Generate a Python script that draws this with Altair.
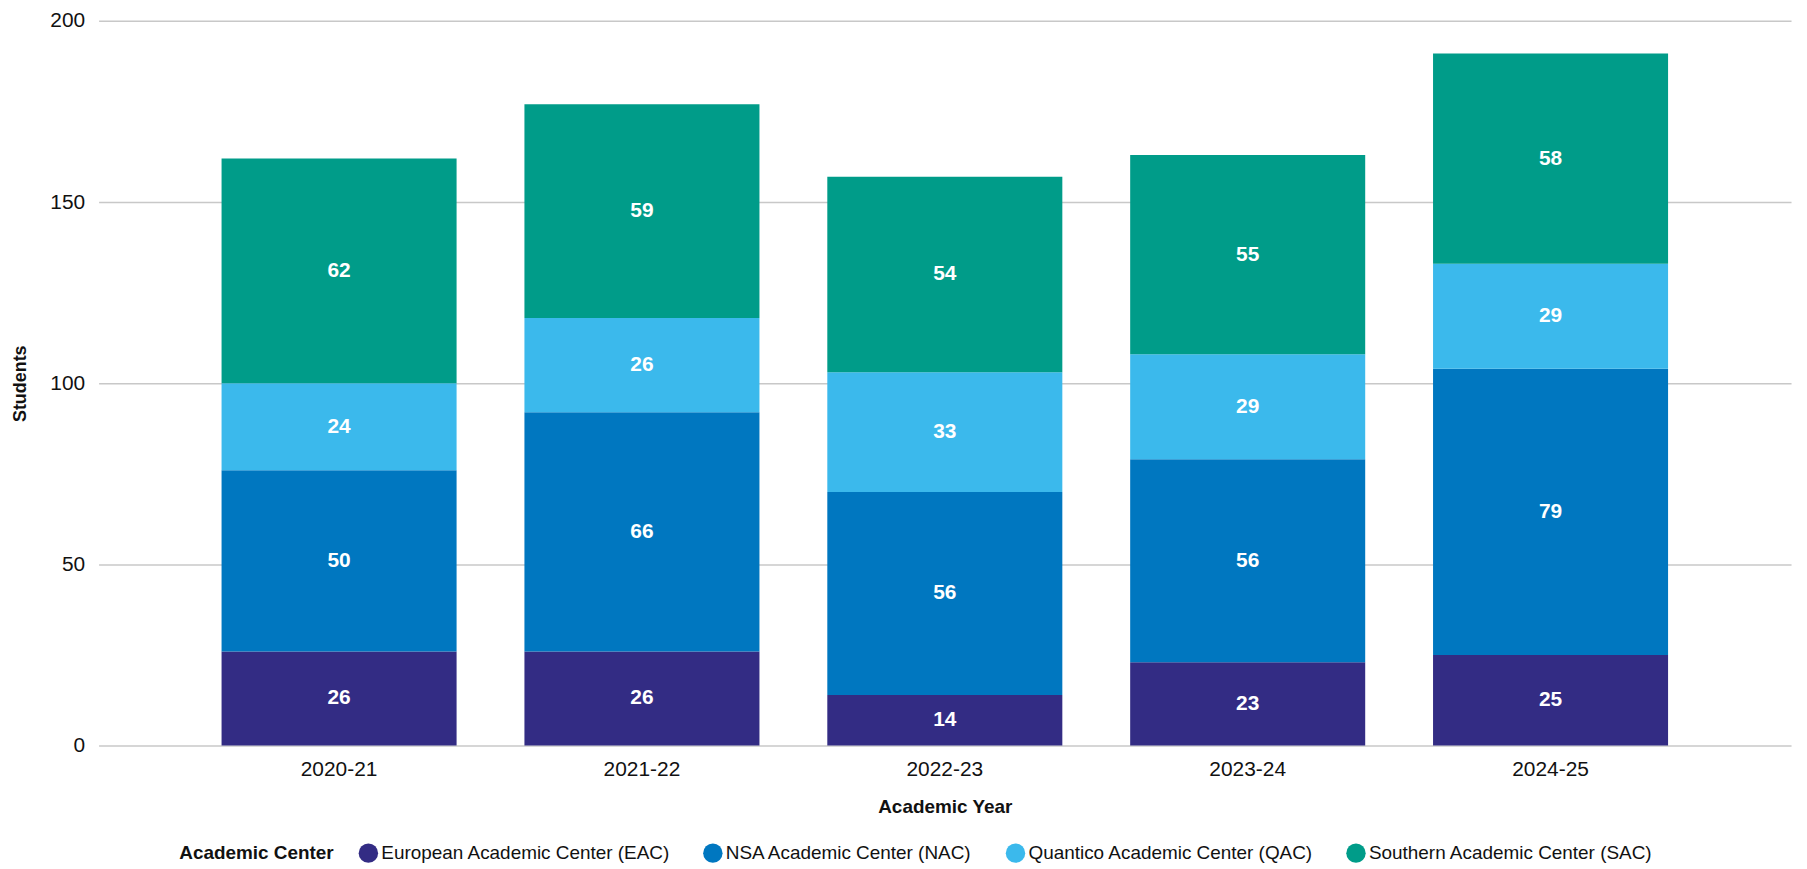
import altair as alt
import pandas as pd

years = ["2020-21", "2021-22", "2022-23", "2023-24", "2024-25"]
centers = [
    "European Academic Center (EAC)",
    "NSA Academic Center (NAC)",
    "Quantico Academic Center (QAC)",
    "Southern Academic Center (SAC)",
]
eac = [26, 26, 14, 23, 25]
nac = [50, 66, 56, 56, 79]
qac = [24, 26, 33, 29, 29]
sac = [62, 59, 54, 55, 58]
colors = ["#332c84", "#0077c0", "#3bb9ec", "#009c89"]

rows = []
for ci, (c, vals) in enumerate(zip(centers, [eac, nac, qac, sac])):
    for y, v in zip(years, vals):
        rows.append({"year": y, "center": c, "students": v, "ord": ci})
df = pd.DataFrame(rows)

FONT = "Liberation Sans"
TXT = "#111111"

base = alt.Chart(df)

bars = base.mark_bar().encode(
    x=alt.X("year:N", sort=years,
            scale=alt.Scale(paddingInner=0.224, paddingOuter=0.406),
            axis=alt.Axis(title="Academic Year", labelAngle=0, ticks=False, domain=False,
                          labelFontSize=21, labelPadding=13, labelColor=TXT,
                          titleFontSize=19, titleFontWeight="bold", titlePadding=18,
                          titleColor=TXT, labelFont=FONT, titleFont=FONT)),
    y=alt.Y("students:Q", stack="zero",
            scale=alt.Scale(domain=[0, 200]),
            axis=alt.Axis(title="Students", values=[0, 50, 100, 150, 200], ticks=False,
                          domain=False, labelFontSize=21, labelPadding=14, labelColor=TXT,
                          titleFontSize=18, titleFontWeight="bold", titlePadding=20,
                          titleColor=TXT, gridColor="#c8c8c8", gridWidth=1.5,
                          labelFont=FONT, titleFont=FONT)),
    color=alt.Color("center:N", sort=centers,
                    scale=alt.Scale(domain=centers, range=colors),
                    legend=alt.Legend(title="Academic Center", orient="none",
                                      legendX=81, legendY=826,
                                      direction="horizontal", titleOrient="left",
                                      symbolType="circle", symbolSize=380,
                                      symbolStrokeWidth=0, labelFontSize=19,
                                      titleFontSize=19, titleFontWeight="bold",
                                      titleColor=TXT, labelColor=TXT,
                                      labelFont=FONT, titleFont=FONT, labelLimit=0,
                                      columnPadding=32, titlePadding=24,
                                      labelOffset=3)),
    order=alt.Order("ord:Q", sort="ascending"),
)

labels = base.transform_stack(
    stack="students", groupby=["year"], as_=["y0", "y1"],
    sort=[alt.SortField("ord", order="ascending")]
).transform_calculate(
    mid="(datum.y0 + datum.y1) / 2"
).mark_text(color="white", fontWeight="bold", fontSize=21, font=FONT).encode(
    x=alt.X("year:N", sort=years),
    y=alt.Y("mid:Q"),
    text=alt.Text("students:Q"),
)

chart = alt.layer(bars, labels).properties(
    width=1700, height=728,
    autosize=alt.AutoSizeParams(type="none"),
    padding={"left": 91, "top": 11, "right": 8, "bottom": 118},
).configure(font=FONT).configure_view(stroke=None)

chart.save("out.html", embed_options={"renderer": "svg", "actions": False})
